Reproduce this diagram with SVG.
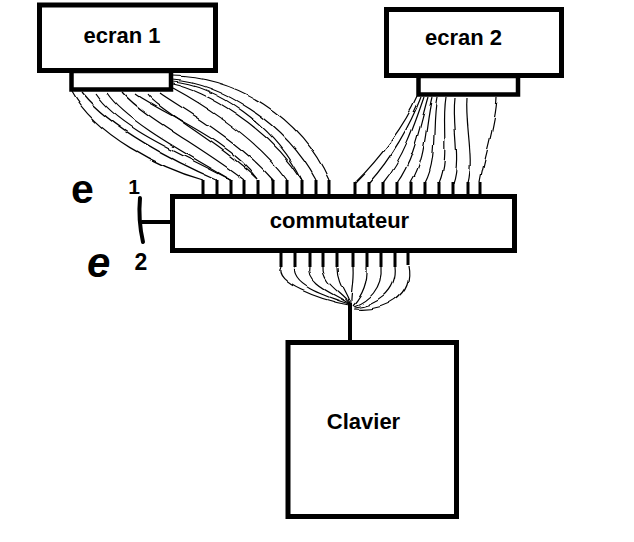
<svg xmlns="http://www.w3.org/2000/svg" width="634" height="542" viewBox="0 0 634 542">
<style>
.box{fill:#fff;stroke:#000;stroke-width:5}
.plug{fill:#fff;stroke:#000;stroke-width:4.5}
.lbl{font-family:"Liberation Sans",Arial,sans-serif;font-weight:bold;font-size:22px;text-anchor:middle;fill:#000}
.hand{font-family:"Liberation Sans",Arial,sans-serif;fill:#000;font-weight:bold}
.wire{fill:none;stroke:#000;stroke-width:1.2}
.pin{stroke:#000;stroke-width:3}
.thick{fill:none;stroke:#000;stroke-width:4;stroke-linecap:round}
</style>
<defs>
<filter id="wob" filterUnits="userSpaceOnUse" x="0" y="0" width="634" height="542">
<feTurbulence type="fractalNoise" baseFrequency="0.045" numOctaves="1" seed="7" result="n"/>
<feDisplacementMap in="SourceGraphic" in2="n" scale="4" xChannelSelector="R" yChannelSelector="G"/>
</filter>
</defs>
<rect width="634" height="542" fill="#fff"/>

<g id="connectors">
<g id="wires-ecran1" class="wire" filter="url(#wob)">
<path d="M72,92 C95,135 160,168 203,180"/>
<path d="M82,93 C110.6,128.6 175.6,162.1 217,180"/>
<path d="M95,93 C120,130 185,155 231,180"/>
<path d="M107,93 C126.1,122.1 191.1,156.2 231,180"/>
<path d="M123,93 C141.7,115.7 206.7,150.3 244,180"/>
<path d="M135,94 C165,115 230,140 258,180"/>
<path d="M147,94 C157.2,109.2 222.2,144.4 258,180"/>
<path d="M160,93 C172.8,102.8 237.8,138.6 273,180"/>
<path d="M173,88 C188.3,96.3 253.3,132.7 287,180"/>
<path d="M173,84 C203.9,89.9 268.9,126.8 302,180"/>
<path d="M173,82 C215,85 275,125 302,180"/>
<path d="M173,80 C219.4,83.4 284.4,120.9 316,180"/>
<path d="M173,76 C235,77 300,115 329,180"/>
</g>
<g id="wires-ecran2" class="wire" filter="url(#wob)">
<path d="M417,97 C405,125 380,158 355,183"/>
<path d="M421,97 C410.2,125 391.6,158 369,183"/>
<path d="M424,97 C414.5,125 403.3,158 383,183"/>
<path d="M428,97 C419.7,125 415,158 397,183"/>
<path d="M432,97 C424.9,125 426.7,158 411,183"/>
<path d="M437,97 C431.1,125 438.3,158 425,183"/>
<path d="M446,97 C441.3,125 450,158 439,183"/>
<path d="M455,97 C451.5,125 461.7,158 453,183"/>
<path d="M467,97 C464.8,125 474.4,158 468,183"/>
<path d="M497,97 C496,125 484,158 480,183"/>
</g>
<g id="wires-clavier" class="wire" filter="url(#wob)">
<path d="M281,267 C272,282 320,300 349,305"/>
<path d="M295,267 C290,285 325,296 349,304"/>
<path d="M310,267 C306,285 335,294 348,303"/>
<path d="M323,267 C322,284 342,292 349,303"/>
<path d="M337,267 C337,283 347,293 350,304"/>
<path d="M353,267 C354,283 350,295 351,305"/>
<path d="M367,267 C368,285 360,298 353,306"/>
<path d="M381,267 C383,288 368,302 354,307"/>
<path d="M395,267 C398,292 375,306 355,308"/>
<path d="M408,265 C414,295 385,312 354,309"/>
</g>
<g id="pins" class="pin">
<path d="M203,180V196M217,180V196M231,180V196M244,180V196M258,180V196M273,180V196M287,180V196M302,180V196M316,180V196M329,180V196"/>
<path d="M355,182V196M369,182V196M383,182V196M397,182V196M411,182V196M425,182V196M439,182V196M453,182V196M468,182V196M480,182V196"/>
<path d="M281,251V267M295,251V267M310,251V267M323,251V267M337,251V267M353,251V267M367,251V267M381,251V267M395,251V267M408,251V265"/>
</g>
<line x1="350" y1="303" x2="350" y2="342" stroke="#000" stroke-width="4"/>
</g>

<g id="ecran1">
<rect class="plug" x="71.5" y="71" width="99.5" height="18.5"/>
<rect class="box" x="39.5" y="5" width="176" height="65.5"/>
<text class="lbl" x="122" y="43">ecran 1</text>
</g>

<g id="ecran2">
<rect class="plug" x="418.5" y="76" width="99.5" height="18.5"/>
<rect class="box" x="386.5" y="9.5" width="175" height="66"/>
<text class="lbl" x="463.5" y="45">ecran 2</text>
</g>

<g id="commutateur">
<rect class="box" x="172.5" y="196.5" width="342" height="54"/>
<text class="lbl" x="339.5" y="228">commutateur</text>
</g>

<g id="clavier">
<rect class="box" x="288" y="342.5" width="168.5" height="174"/>
<text class="lbl" x="363.5" y="429">Clavier</text>
</g>

<g id="selecteur">
<path class="thick" d="M140,198 Q138,220 143,242"/>
<path class="thick" d="M142,222 L171,222"/>
<text class="hand" x="71" y="203" font-size="41">e</text>
<text class="hand" x="134" y="194" font-size="21" text-anchor="middle">1</text>
<text class="hand" x="87" y="277" font-size="42" font-style="italic">e</text>
<text class="hand" x="141" y="270" font-size="23" text-anchor="middle">2</text>
</g>
</svg>
